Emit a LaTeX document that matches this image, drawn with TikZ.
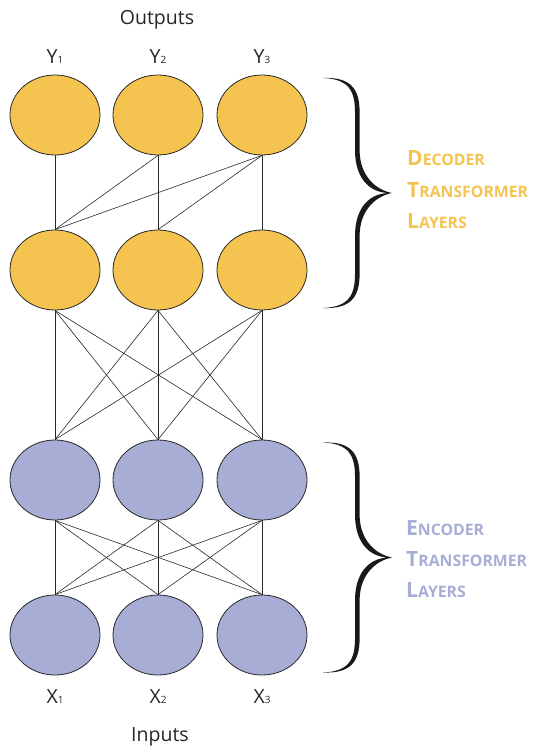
\documentclass[tikz,border=0pt]{standalone}
\usepackage{fontspec}
\setmainfont{Open Sans}
\usetikzlibrary{shapes.geometric}
\definecolor{gold}{RGB}{244,195,80}
\definecolor{lav}{RGB}{168,173,213}
\definecolor{edge}{RGB}{40,40,40}
\newcommand\MySC[2]{{\fontsize{21}{21}\selectfont #1}{\fontsize{15.8}{15.8}\selectfont #2}}
\newcommand\MySub[1]{{\fontsize{10}{10}\selectfont #1}}
\begin{document}
\begin{tikzpicture}[x=1pt,y=-1pt,
  dec/.style={ellipse, draw=edge, line width=0.8pt, fill=gold, minimum width=90pt, minimum height=80pt, inner sep=0pt},
  enc/.style={dec, fill=lav},
  link/.style={draw=edge, line width=0.6pt},
  lbl/.style={anchor=base, font=\fontsize{19.5}{19.5}\selectfont, text=black!85, inner sep=0pt},
  side/.style={anchor=base west, font=\bfseries, inner sep=0pt},
  bracefill/.style={fill=black!90}
]
\useasboundingbox (0,0) rectangle (535,746);

% nodes
\foreach \n/\x in {1/55,2/158,3/262}{
  \node[dec] (y\n) at (\x,115) {};
  \node[dec] (d\n) at (\x,270) {};
  \node[enc] (e\n) at (\x,480) {};
  \node[enc] (x\n) at (\x,635) {};
  \node[lbl] (ly\n) at (\x,64) {Y\MySub{\n}};
  \node[lbl] (lx\n) at (\x,703) {X\MySub{\n}};
}
\node[lbl] (out) at (157,25) {Outputs};
\node[lbl] (inp) at (160,741) {Inputs};

% links
\foreach \i/\j in {1/1,2/1,2/2,3/1,3/2,3/3}
  \draw[link] (y\i.south) -- (d\j.north);
\foreach \i in {1,2,3}{
  \foreach \j in {1,2,3}{
    \draw[link] (d\i.south) -- (e\j.north);
    \draw[link] (e\i.south) -- (x\j.north);
  }
}

% braces
\foreach \dy in {0,364.5}{
\begin{scope}[yshift=-\dy pt]
\fill[bracefill] (323,78) .. controls (350,77) and (359.6,88) .. (359.6,112)
  -- (359.6,150) .. controls (359.6,176) and (376,190) .. (392,193)
  .. controls (376,196) and (359.6,210) .. (359.6,236)
  -- (359.6,274) .. controls (359.6,298) and (350,309) .. (323,308)
  .. controls (348,307) and (355,296) .. (355,274)
  -- (355,236) .. controls (355,206) and (371,192) .. (392,193)
  .. controls (371,194) and (355,180) .. (355,150)
  -- (355,112) .. controls (355,90) and (348,79) .. (323,78) -- cycle;
\end{scope}
}

% side labels
\node[side, text=gold] (dt1) at (407,165) {\MySC{D}{ECODER}};
\node[side, text=gold] (dt2) at (407,197) {\MySC{T}{RANSFORMER}};
\node[side, text=gold] (dt3) at (407,228) {\MySC{L}{AYERS}};
\node[side, text=lav] (et1) at (406,535) {\MySC{E}{NCODER}};
\node[side, text=lav] (et2) at (406,566) {\MySC{T}{RANSFORMER}};
\node[side, text=lav] (et3) at (406,597) {\MySC{L}{AYERS}};
\end{tikzpicture}
\end{document}
